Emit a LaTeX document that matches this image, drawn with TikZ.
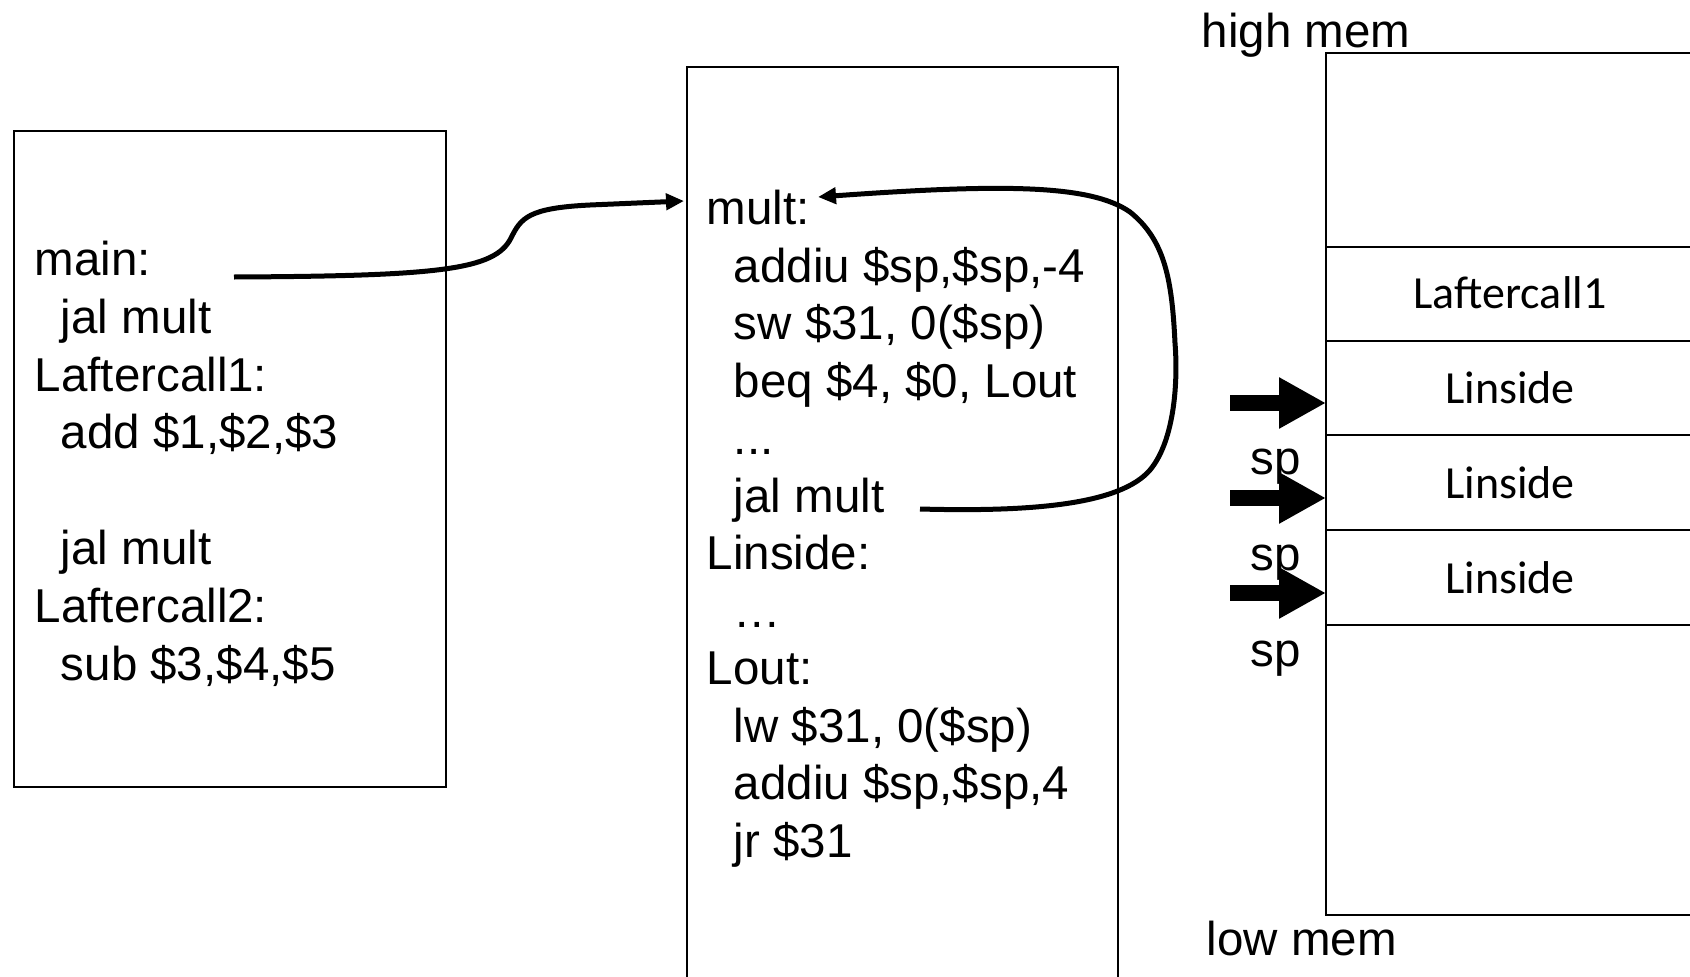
\documentclass[tikz,border=0pt]{standalone}
\usepackage{fontspec}
\setmainfont{Liberation Sans}
\newfontfamily\calfont{Carlito}
\usetikzlibrary{arrows.meta}

\begin{document}
\begin{tikzpicture}[x=1pt, y=-1pt, line width=1.7pt,
        code/.style={anchor=base west, inner sep=0pt, font=\fontsize{47.5}{57}\selectfont},
        slot/.style={anchor=base, inner sep=0pt, font=\calfont\fontsize{46}{55}\selectfont},
        jump/.style={line width=5pt, -{Triangle[length=18pt,width=16pt]}},
        sparrow/.style={line width=16pt, -{Triangle[length=47pt,width=48pt]}}]
        \useasboundingbox (0,0) rectangle (1690,977);

        \draw (14,131) rectangle (446,787);
        \draw (687,977) -- (687,67) -- (1118,67) -- (1118,977);
        \draw (1690,53) -- (1326,53) -- (1326,915) -- (1690,915);
        \draw (1326,247) -- (1690,247);
        \draw (1326,341) -- (1690,341);
        \draw (1326,435) -- (1690,435);
        \draw[line width=2.8pt] (1326,530) -- (1690,530);
        \draw (1326,625) -- (1690,625);

        \node[code] (M1) at (34,275) {main:};
        \node[code] (M2) at (60,333) {jal mult};
        \node[code] (M3) at (34,391) {Laftercall1:};
        \node[code] (M4) at (60,448) {add \$1,\$2,\$3};
        \node[code] (M5) at (60,564) {jal mult};
        \node[code] (M6) at (34,622) {Laftercall2:};
        \node[code] (M7) at (60,680) {sub \$3,\$4,\$5};

        \node[code] (F1) at (706,224.5) {mult:};
        \node[code] (F2) at (733,282) {addiu \$sp,\$sp,-4};
        \node[code] (F3) at (733,339.5) {sw \$31, 0(\$sp)};
        \node[code] (F4) at (733,397) {beq \$4, \$0, Lout};
        \node[code] (F5) at (733,454.5) {...};
        \node[code] (F6) at (733,512) {jal mult};
        \node[code] (F7) at (706,569.5) {Linside:};
        \node[code] (F8) at (733,627) {…};
        \node[code] (F9) at (706,684.5) {Lout:};
        \node[code] (F10) at (733,742) {lw \$31, 0(\$sp)};
        \node[code] (F11) at (733,799.5) {addiu \$sp,\$sp,4};
        \node[code] (F12) at (733,857) {jr \$31};

        \node[code] (H) at (1201,47) {high mem};
        \node[code] (L) at (1206,955) {low mem};

        \node[slot] (S1) at (1510,308) {Laftercall1};
        \node[slot] (S2) at (1510,403) {Linside};
        \node[slot] (S3) at (1510,498) {Linside};
        \node[slot] (S4) at (1510,593) {Linside};

        \node[code] (P1) at (1250,474) {sp};
        \node[code] (P2) at (1250,570) {sp};
        \node[code] (P3) at (1250,666) {sp};

        \coordinate (C1) at (234,277);
        \coordinate (C2) at (684,201);
        \coordinate (R1) at (920,509);
        \coordinate (R2) at (818,197);
        \coordinate (A1) at (1230,403);
        \coordinate (A2) at (1230,498);
        \coordinate (A3) at (1230,593);
        \coordinate (T1) at (1326,403);
        \coordinate (T2) at (1326,498);
        \coordinate (T3) at (1326,593);

        \draw[jump] (C1) .. controls (440,276) and (495,270) .. (511,238)
                .. controls (521,218) and (528,208) .. (590,205) -- (C2);
        \draw[jump] (R1) .. controls (1030,512) and (1120,505) .. (1150,470)
                .. controls (1175,440) and (1178,380) .. (1175,343)
                .. controls (1172,280) and (1165,240) .. (1130,212)
                .. controls (1090,184) and (1000,184) .. (R2);

        \draw[sparrow] (A1) -- (T1);
        \draw[sparrow] (A2) -- (T2);
        \draw[sparrow] (A3) -- (T3);
\end{tikzpicture}
\end{document}
